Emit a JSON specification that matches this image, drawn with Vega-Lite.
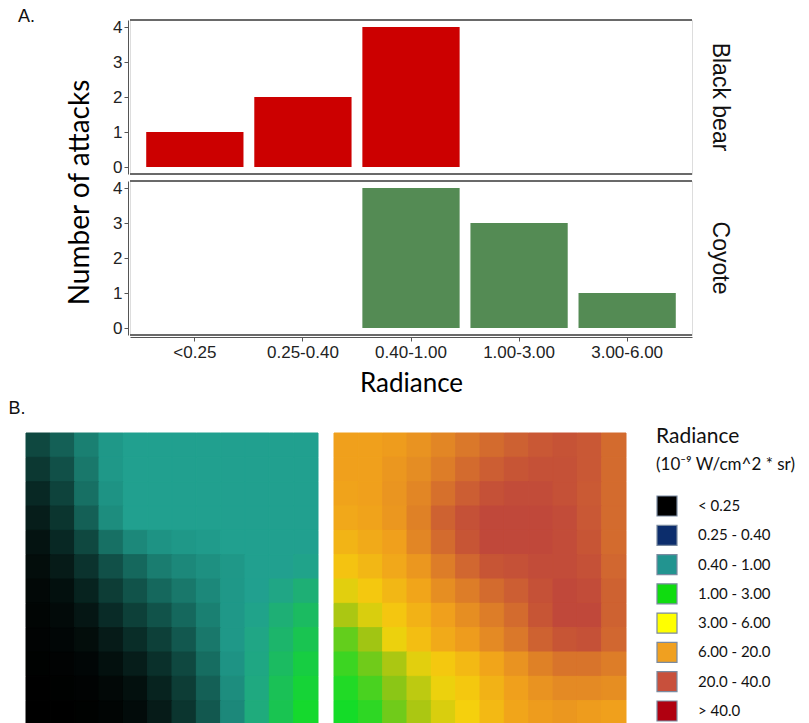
{
  "$schema": "https://vega.github.io/schema/vega-lite/v6.json",
  "background": "white",
  "padding": {"left": 8, "top": 8, "right": 0, "bottom": 0},
  "config": {
    "view": {"stroke": "#dddddd"},
    "font": "Liberation Sans",
    "title": {"fontWeight": "normal", "color": "#111111"}
  },
  "datasets": {
    "attacks": [
      {"species": "Black bear", "radiance": "<0.25", "attacks": 1},
      {"species": "Black bear", "radiance": "0.25-0.40", "attacks": 2},
      {"species": "Black bear", "radiance": "0.40-1.00", "attacks": 4},
      {"species": "Black bear", "radiance": "1.00-3.00", "attacks": 0},
      {"species": "Black bear", "radiance": "3.00-6.00", "attacks": 0},
      {"species": "Coyote", "radiance": "<0.25", "attacks": 0},
      {"species": "Coyote", "radiance": "0.25-0.40", "attacks": 0},
      {"species": "Coyote", "radiance": "0.40-1.00", "attacks": 4},
      {"species": "Coyote", "radiance": "1.00-3.00", "attacks": 3},
      {"species": "Coyote", "radiance": "3.00-6.00", "attacks": 1}
    ],
    "mapLeft": [
      {"row": 0, "col": [0,1,2,3,4,5,6,7,8,9,10,11], "v": [0.45,0.6,0.8,0.95,1,1,1,1,1,1,1,1]},
      {"row": 1, "col": [0,1,2,3,4,5,6,7,8,9,10,11], "v": [0.35,0.5,0.75,0.95,1,1,1,1,1,1,1,1]},
      {"row": 2, "col": [0,1,2,3,4,5,6,7,8,9,10,11], "v": [0.25,0.42,0.7,0.92,1,1,1,1,1,1,1,1]},
      {"row": 3, "col": [0,1,2,3,4,5,6,7,8,9,10,11], "v": [0.18,0.33,0.6,0.88,1,1,1,1,1,1,1,1]},
      {"row": 4, "col": [0,1,2,3,4,5,6,7,8,9,10,11], "v": [0.12,0.25,0.45,0.7,0.85,0.92,0.95,0.97,1,1,1,1]},
      {"row": 5, "col": [0,1,2,3,4,5,6,7,8,9,10,11], "v": [0.08,0.17,0.32,0.5,0.65,0.78,0.85,0.9,0.95,1,1,1.05]},
      {"row": 6, "col": [0,1,2,3,4,5,6,7,8,9,10,11], "v": [0.05,0.1,0.22,0.38,0.52,0.65,0.75,0.85,0.95,1,1.1,1.25]},
      {"row": 7, "col": [0,1,2,3,4,5,6,7,8,9,10,11], "v": [0.03,0.06,0.14,0.27,0.4,0.52,0.65,0.8,0.95,1.05,1.25,1.45]},
      {"row": 8, "col": [0,1,2,3,4,5,6,7,8,9,10,11], "v": [0.02,0.04,0.08,0.17,0.28,0.4,0.55,0.75,0.95,1.1,1.35,1.6]},
      {"row": 9, "col": [0,1,2,3,4,5,6,7,8,9,10,11], "v": [0.01,0.02,0.04,0.1,0.18,0.3,0.45,0.68,0.92,1.12,1.45,1.75]},
      {"row": 10, "col": [0,1,2,3,4,5,6,7,8,9,10,11], "v": [0,0.01,0.02,0.05,0.1,0.22,0.38,0.6,0.88,1.15,1.55,1.85]},
      {"row": 11, "col": [0,1,2,3,4,5,6,7,8,9,10,11], "v": [0,0,0.01,0.03,0.07,0.17,0.33,0.55,0.85,1.18,1.6,1.95]}
    ],
    "mapRight": [
      {"row": 0, "col": [0,1,2,3,4,5,6,7,8,9,10,11], "v": [4.0,4.0,4.05,4.15,4.3,4.45,4.6,4.72,4.82,4.88,4.82,4.6]},
      {"row": 1, "col": [0,1,2,3,4,5,6,7,8,9,10,11], "v": [4.0,4.0,4.1,4.22,4.4,4.6,4.75,4.85,4.9,4.9,4.82,4.6]},
      {"row": 2, "col": [0,1,2,3,4,5,6,7,8,9,10,11], "v": [3.95,4.0,4.12,4.3,4.55,4.75,4.9,4.95,4.95,4.9,4.8,4.6]},
      {"row": 3, "col": [0,1,2,3,4,5,6,7,8,9,10,11], "v": [3.85,3.95,4.1,4.35,4.7,4.9,5.0,5.0,5.0,4.95,4.82,4.6]},
      {"row": 4, "col": [0,1,2,3,4,5,6,7,8,9,10,11], "v": [3.6,3.8,4.0,4.3,4.6,4.85,5.0,5.0,5.0,4.95,4.85,4.6]},
      {"row": 5, "col": [0,1,2,3,4,5,6,7,8,9,10,11], "v": [3.3,3.55,3.85,4.1,4.4,4.65,4.85,4.9,4.95,4.95,4.9,4.65]},
      {"row": 6, "col": [0,1,2,3,4,5,6,7,8,9,10,11], "v": [2.9,3.2,3.55,3.9,4.2,4.4,4.6,4.75,4.9,5.0,4.95,4.7]},
      {"row": 7, "col": [0,1,2,3,4,5,6,7,8,9,10,11], "v": [2.6,2.85,3.25,3.65,4.0,4.2,4.4,4.6,4.85,5.0,5.0,4.7]},
      {"row": 8, "col": [0,1,2,3,4,5,6,7,8,9,10,11], "v": [2.3,2.55,2.95,3.4,3.8,4.05,4.25,4.45,4.7,4.85,4.9,4.65]},
      {"row": 9, "col": [0,1,2,3,4,5,6,7,8,9,10,11], "v": [2.15,2.35,2.6,2.9,3.2,3.5,3.9,4.15,4.35,4.5,4.5,4.4]},
      {"row": 10, "col": [0,1,2,3,4,5,6,7,8,9,10,11], "v": [2.05,2.2,2.45,2.7,2.95,3.2,3.65,4.0,4.15,4.25,4.25,4.2]},
      {"row": 11, "col": [0,1,2,3,4,5,6,7,8,9,10,11], "v": [2.0,2.1,2.35,2.6,2.85,3.05,3.5,3.9,4.05,4.1,4.05,4.0]}
    ],
    "legend": [
      {"cls": "< 0.25"},
      {"cls": "0.25 - 0.40"},
      {"cls": "0.40 - 1.00"},
      {"cls": "1.00 - 3.00"},
      {"cls": "3.00 - 6.00"},
      {"cls": "6.00 - 20.0"},
      {"cls": "20.0 - 40.0"},
      {"cls": "> 40.0"}
    ]
  },
  "spacing": 4,
  "vconcat": [
    {
      "title": {"text": "A.", "anchor": "start", "frame": "bounds", "font": "Liberation Sans", "fontSize": 18, "dx": -8, "offset": -8},
      "spacing": 16,
      "hconcat": [
        {
          "width": 70, "height": 311,
          "view": {"stroke": null},
          "data": {"values": []},
          "mark": {"type": "point", "opacity": 0},
          "encoding": {
            "y": {"datum": 0, "type": "quantitative", "scale": {"domain": [0, 1]},
              "axis": {"title": "Number of attacks", "titleFont": "Lato", "titleFontSize": 28, "titleFontWeight": "normal", "titleColor": "#000000", "titleAngle": -90, "titleBaseline": "alphabetic", "titleAlign": "center", "titleX": 62, "titleY": 172, "labels": false, "ticks": false, "domain": false, "grid": false}}
          }
        },
        {
          "data": {"name": "attacks"},
          "facet": {
            "row": {
              "field": "species", "type": "nominal", "sort": ["Black bear", "Coyote"],
              "header": {"title": null, "labelOrient": "right", "labelAngle": 90, "labelFont": "Liberation Sans", "labelFontSize": 23, "labelColor": "#111111", "labelPadding": 14}
            }
          },
          "spacing": 3,
          "spec": {
            "width": 562,
            "height": 154,
            "layer": [
              {
                "mark": {"type": "bar"},
                "encoding": {
                  "x": {
                    "field": "radiance", "type": "ordinal",
                    "sort": ["<0.25", "0.25-0.40", "0.40-1.00", "1.00-3.00", "3.00-6.00"],
                    "scale": {"paddingInner": 0.1, "paddingOuter": 0.15},
                    "title": "Radiance",
                    "axis": {"titleFont": "Lato", "titleFontSize": 26, "titleFontWeight": "normal", "titleColor": "#000000", "titlePadding": 10, "labelFont": "Liberation Sans", "labelFontSize": 17, "labelColor": "#222222", "labelAngle": 0, "labelPadding": 3, "tickColor": "#555555", "tickSize": 4, "domainColor": "#555555"}
                  },
                  "y": {
                    "field": "attacks", "type": "quantitative",
                    "scale": {"domain": [-0.2, 4.2], "nice": false, "zero": false},
                    "title": null,
                    "axis": {"values": [0, 1, 2, 3, 4], "tickCount": 5, "labelOverlap": false, "grid": false, "labelFont": "Liberation Sans", "labelFontSize": 17, "labelColor": "#222222", "labelPadding": 2, "tickColor": "#555555", "tickSize": 4, "domainColor": "#555555"}
                  },
                  "y2": {"datum": 0},
                  "color": {"field": "species", "type": "nominal", "scale": {"domain": ["Black bear", "Coyote"], "range": ["#cc0000", "#548b54"]}, "legend": null}
                }
              },
              {
                "mark": {"type": "rule", "color": "#666666", "strokeWidth": 1.2},
                "encoding": {"y": {"datum": 4.2, "title": null, "axis": {"values": [0, 1, 2, 3, 4], "tickCount": 5, "labelOverlap": false, "grid": false, "labelFont": "Liberation Sans", "labelFontSize": 17, "labelColor": "#222222", "labelPadding": 2, "tickColor": "#555555", "tickSize": 4, "domainColor": "#555555"}}}
              },
              {
                "mark": {"type": "rule", "color": "#666666", "strokeWidth": 1.2},
                "encoding": {"y": {"datum": -0.2, "title": null, "axis": {"values": [0, 1, 2, 3, 4], "tickCount": 5, "labelOverlap": false, "grid": false, "labelFont": "Liberation Sans", "labelFontSize": 17, "labelColor": "#222222", "labelPadding": 2, "tickColor": "#555555", "tickSize": 4, "domainColor": "#555555"}}}
              }
            ]
          }
        }
      ]
    },
    {
      "title": {"text": "B.", "anchor": "start", "frame": "bounds", "font": "Liberation Sans", "fontSize": 18, "dx": -17, "offset": 8},
      "spacing": 27,
      "resolve": {"scale": {"color": "independent", "stroke": "independent"}},
      "hconcat": [
        {
          "spacing": 14,
          "hconcat": [
            {
              "width": 292, "height": 292,
              "view": {"stroke": null},
              "data": {"name": "mapLeft"},
              "transform": [{"flatten": ["col", "v"]}],
              "mark": {"type": "rect", "strokeWidth": 1},
              "encoding": {
                "x": {"field": "col", "type": "ordinal", "axis": null},
                "y": {"field": "row", "type": "ordinal", "axis": null},
                "color": {"field": "v", "type": "quantitative", "scale": {"domain": [0, 1, 2, 2.5, 3, 4, 5], "range": ["#000000", "#21a08f", "#14dc28", "#98c414", "#f5d20c", "#f0a01c", "#c0483a"], "interpolate": "rgb"}, "legend": null},
                "stroke": {"field": "v", "type": "quantitative", "scale": {"domain": [0, 1, 2, 2.5, 3, 4, 5], "range": ["#000000", "#21a08f", "#14dc28", "#98c414", "#f5d20c", "#f0a01c", "#c0483a"], "interpolate": "rgb"}, "legend": null}
              }
            },
            {
              "width": 292, "height": 292,
              "view": {"stroke": null},
              "data": {"name": "mapRight"},
              "transform": [{"flatten": ["col", "v"]}],
              "mark": {"type": "rect", "strokeWidth": 1},
              "encoding": {
                "x": {"field": "col", "type": "ordinal", "axis": null},
                "y": {"field": "row", "type": "ordinal", "axis": null},
                "color": {"field": "v", "type": "quantitative", "scale": {"domain": [0, 1, 2, 2.5, 3, 4, 5], "range": ["#000000", "#21a08f", "#14dc28", "#98c414", "#f5d20c", "#f0a01c", "#c0483a"], "interpolate": "rgb"}, "legend": null},
                "stroke": {"field": "v", "type": "quantitative", "scale": {"domain": [0, 1, 2, 2.5, 3, 4, 5], "range": ["#000000", "#21a08f", "#14dc28", "#98c414", "#f5d20c", "#f0a01c", "#c0483a"], "interpolate": "rgb"}, "legend": null}
              }
            }
          ]
        },
        {
          "title": {"text": "Radiance", "subtitle": "(10⁻⁹ W/cm^2 * sr)", "anchor": "start", "frame": "group", "font": "Lato", "fontSize": 21, "subtitleFont": "Lato", "subtitleFontSize": 17, "subtitleColor": "#111111", "subtitlePadding": 10, "offset": -40},
          "width": 22, "height": 292,
          "view": {"stroke": null},
          "data": {"name": "legend"},
          "encoding": {"y": {"field": "cls", "type": "ordinal", "sort": null, "scale": {"range": [73, 278], "padding": 0}, "axis": null}},
          "layer": [
            {
              "mark": {"type": "square", "size": 400, "filled": true, "opacity": 1, "stroke": "#7a8aa0", "strokeWidth": 1.2},
              "encoding": {"color": {"field": "cls", "type": "nominal", "sort": null, "scale": {"domain": ["< 0.25", "0.25 - 0.40", "0.40 - 1.00", "1.00 - 3.00", "3.00 - 6.00", "6.00 - 20.0", "20.0 - 40.0", "> 40.0"], "range": ["#000000", "#0c2d6c", "#229490", "#10dc10", "#ffff00", "#f0a020", "#c8503c", "#b00010"]}, "legend": null}}
            },
            {
              "mark": {"type": "text", "align": "left", "baseline": "middle", "dx": 31, "font": "Lato", "fontSize": 15, "color": "#111111"},
              "encoding": {"text": {"field": "cls"}}
            }
          ]
        }
      ]
    }
  ]
}
